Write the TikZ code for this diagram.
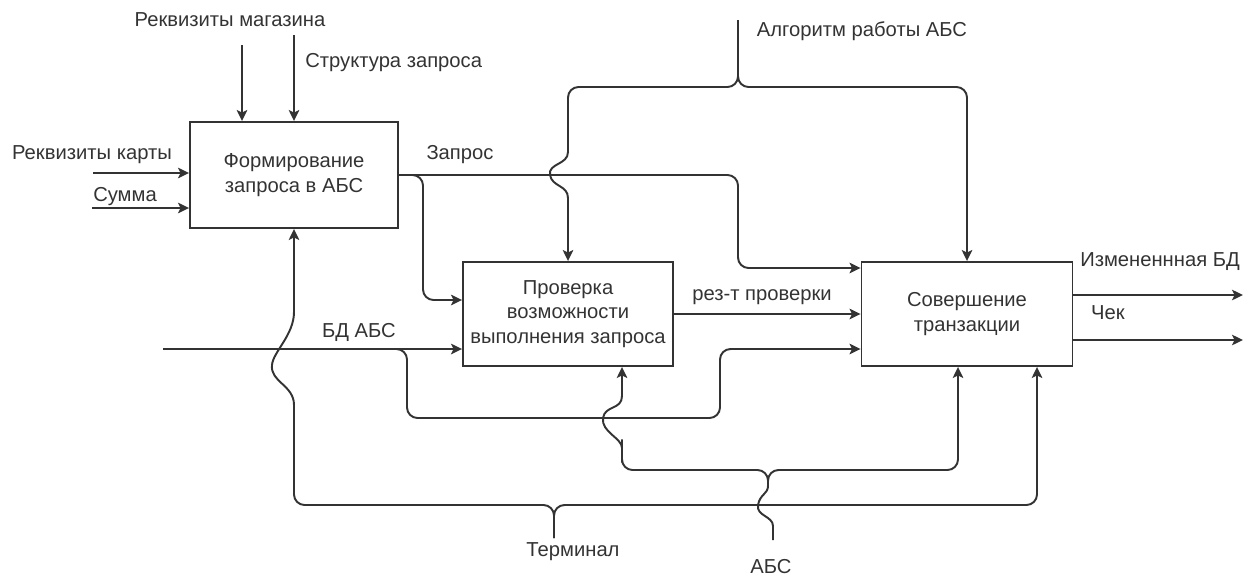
\documentclass[tikz,border=0pt]{standalone}
\usepackage{fontspec}
\setmainfont{Liberation Sans}
\usetikzlibrary{arrows.meta}

\definecolor{ink}{HTML}{333333}

\begin{document}
\begin{tikzpicture}[
  x=0.02cm, y=-0.02cm,
  font=\fontsize{11.5}{14}\selectfont,
  func/.style={rectangle, draw=ink, text=ink, line width=1.1pt, align=center, inner sep=0pt},
  lbl/.style={text=ink, inner sep=0pt},
  arr/.style={-{Stealth[length=2.2mm,width=2.1mm,inset=0.5mm]}, line width=1.1pt, draw=ink, rounded corners=6pt}
]
\useasboundingbox (0,0) rectangle (1254,578);
% functions
\node[func, minimum width=4.16cm, minimum height=2.12cm] (form) at (294,175) {Формирование\\запроса в АБС};
\node[func, minimum width=4.2cm, minimum height=2.08cm] (check) at (568,314) {Проверка\\возможности\\выполнения запроса};
\node[func, minimum width=4.22cm, minimum height=2.08cm] (trans) at (967,314) {Совершение\\транзакции};
% free ends and tips
\coordinate (shopIn) at (242,45);
\coordinate (structIn) at (294,35);
\coordinate (cardIn) at (93,173);
\coordinate (sumIn) at (92,208);
\coordinate (dbIn) at (163,349);
\coordinate (qDown) at (738,268);
\coordinate (qIn) at (423,300);
\coordinate (algIn) at (738,20);
\coordinate (algTip) at (738,87);
\coordinate (termOut) at (554,538);
\coordinate (termTip) at (554,505);
\coordinate (termR) at (1037,505);
\coordinate (abcOut) at (773,540);
\coordinate (abcTip) at (768,470);
\coordinate (abcL) at (622,470);
\coordinate (abcR) at (958,470);
\coordinate (newDbOut) at (1243,295);
\coordinate (chkOut) at (1243,340);
% inputs of form
\draw[arr] (shopIn) -- (shopIn |- form.north);
\draw[arr] (structIn) -- (form.north);
\draw[arr] (cardIn) -- (cardIn -| form.west);
\draw[arr] (sumIn) -- (sumIn -| form.west);
% query
\draw[arr] (form.east) -| (qDown) -- (qDown -| trans.west);
\draw[arr] (form.east) -| (qIn) -- (qIn -| check.west);
% algorithm
\draw[arr] (algIn) -- (algTip) -- (algTip -| check.north) -- (568,140) [sharp corners] -- (568,152)
  .. controls (568,165) and (548,163) .. (550,175)
  .. controls (552,187) and (568,185) .. (568,198) -- (check.north);
\draw[arr] (algIn) -- (algTip) -- (algTip -| trans.north) -- (trans.north);
% database
\draw[arr] (dbIn) -- (dbIn -| check.west);
\draw[arr] (dbIn) -- (407,349) -- (407,418) -- (720,418) -- (720,349) -- (dbIn -| trans.west);
% result
\draw[arr] (check.east) -- (check.east -| trans.west);
% terminal
\draw[arr] (termOut) -- (termTip) -- (termTip -| form.south) -- (294,420) [sharp corners] -- (294,405)
  .. controls (294,385) and (270,382) .. (272,365)
  .. controls (273,352) and (294,335) .. (294,312) -- (form.south);
\draw[arr] (termOut) -- (termTip) -- (termR) -- (termR |- trans.south);
% ABS
\draw[arr, sharp corners] (abcOut) -- (773,526)
  .. controls (773,516) and (756,516) .. (758,505)
  .. controls (760,494) and (768,494) .. (768,486) [rounded corners=6pt] -- (abcTip) -- (abcL) -- (622,452) -- (622,450) [sharp corners] -- (622,448)
  .. controls (622,438) and (601,432) .. (603,418)
  .. controls (605,405) and (622,410) .. (622,396) -- (abcL |- check.south);
\draw[arr] (768,486) -- (abcTip) -- (abcR) -- (abcR |- trans.south);
% outputs
\draw[arr] (newDbOut -| trans.east) -- (newDbOut);
\draw[arr] (chkOut -| trans.east) -- (chkOut);
% labels
\node[lbl] (lblShop) at (230,20) {Реквизиты магазина};
\node[lbl, anchor=west] (lblStruct) at (305,63) {Структура запроса};
\node[lbl] (lblCard) at (92,155) {Реквизиты карты};
\node[lbl] (lblSum) at (125,197) {Сумма};
\node[lbl] (lblQuery) at (460,155) {Запрос};
\node[lbl] (lblDb) at (359,332) {БД АБС};
\node[lbl] (lblRes) at (762,297) {рез-т проверки};
\node[lbl] (lblAlg) at (862,31) {Алгоритм работы АБС};
\node[lbl] (lblNewDb) at (1160,262) {Измененнная БД};
\node[lbl] (lblChk) at (1108,313) {Чек};
\node[lbl] (lblTerm) at (573,552) {Терминал};
\node[lbl] (lblAbc) at (771,567) {АБС};
\end{tikzpicture}
\end{document}
